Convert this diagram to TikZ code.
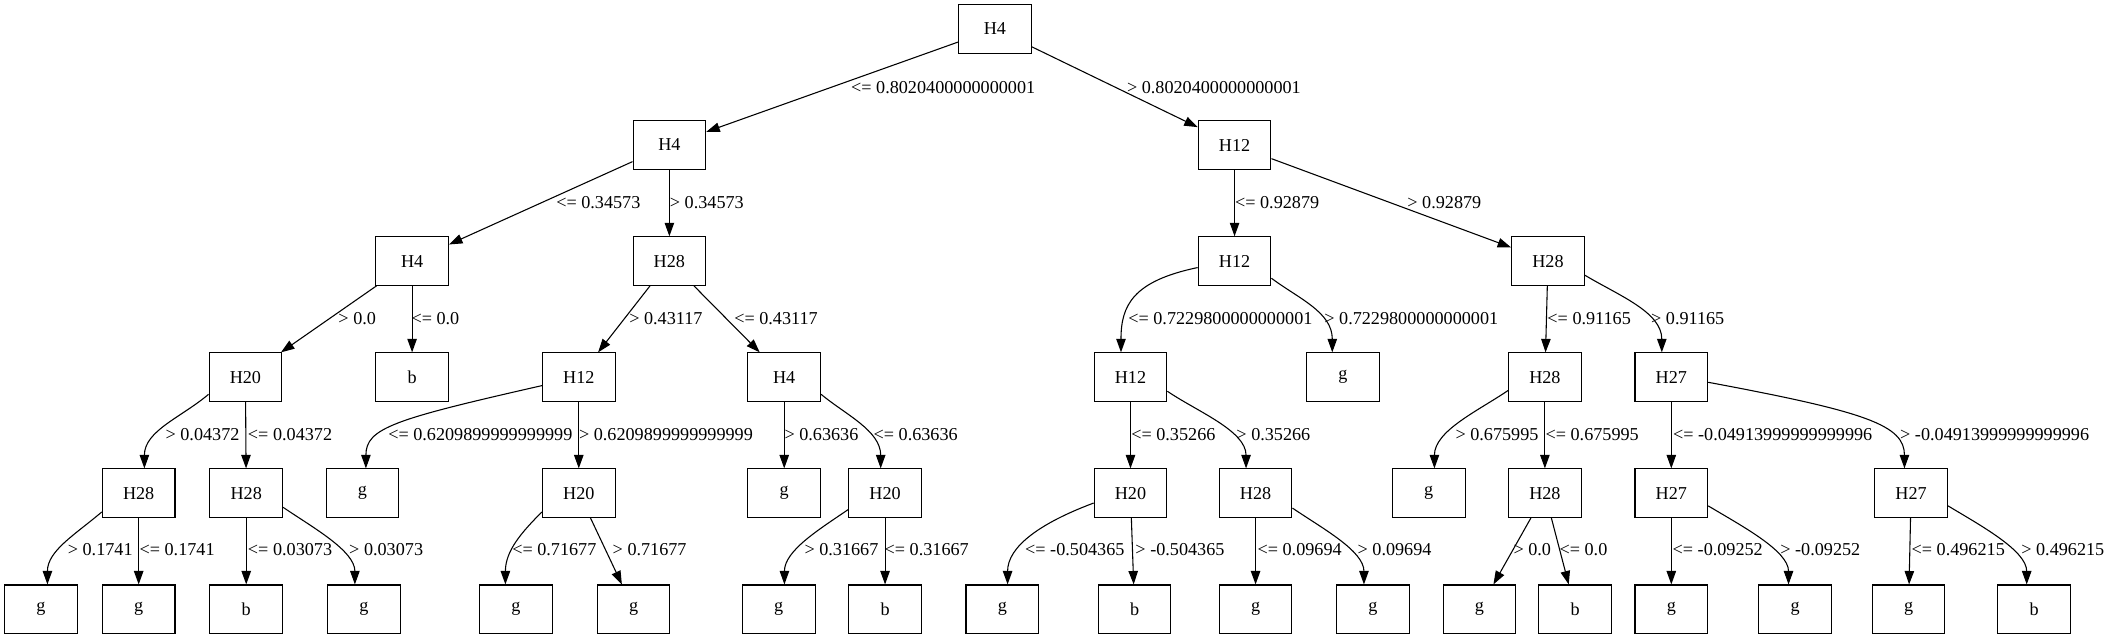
\documentclass[tikz,border=0pt]{standalone}
\usepackage{fontspec}
\setmainfont{Liberation Serif}
\usetikzlibrary{arrows.meta}

\begin{document}
\begin{tikzpicture}[x=1pt,y=-1pt,font=\fontsize{13.5}{16}\selectfont,
  box/.style={draw,line width=0.8pt,minimum width=54pt,minimum height=36pt,inner sep=0pt},
  link/.style={draw,line width=0.8pt,-{Triangle[length=10pt,width=7pt]}},
  lbl/.style={anchor=west,inner sep=0pt}]
\useasboundingbox (0,0) rectangle (1568,474.6);
% level 0 and 1
\node[box] (t) at (739,21.5) {H4};
\node[box] (tl) at (497.2,107.7) {H4};
\node[box] (tr) at (917,107.7) {H12};
% level 2
\node[box] (tll) at (306.1,193.9) {H4};
\node[box] (tlr) at (497.2,193.9) {H28};
\node[box] (trl) at (917,193.9) {H12};
\node[box] (trr) at (1149.8,193.9) {H28};
% level 3
\node[box] (tlll) at (182.3,280.1) {H20};
\node[box] (tllr) at (306.1,280.1) {b};
\node[box] (tlrl) at (429.9,280.1) {H12};
\node[box] (tlrr) at (582.5,280.1) {H4};
\node[box] (trll) at (839.7,280.1) {H12};
\node[box] (trlr) at (997.4,280.1) {g};
\node[box] (trrl) at (1147.5,280.1) {H28};
\node[box] (trrr) at (1241.4,280.1) {H27};
% level 4
\node[box] (tllll) at (103,366.3) {H28};
\node[box] (tlllr) at (182.9,366.3) {H28};
\node[box] (tlrll) at (269.2,366.3) {g};
\node[box] (tlrlr) at (429.9,366.3) {H20};
\node[box] (tlrrl) at (582.5,366.3) {g};
\node[box] (tlrrr) at (657.4,366.3) {H20};
\node[box] (trlll) at (839.7,366.3) {H20};
\node[box] (trllr) at (932.6,366.3) {H28};
\node[box] (trrll) at (1061.2,366.3) {g};
\node[box] (trrlr) at (1147.5,366.3) {H28};
\node[box] (trrrl) at (1241.4,366.3) {H27};
\node[box] (trrrr) at (1419.5,366.3) {H27};
% level 5
\node[box] (tlllll) at (30.3,452.5) {g};
\node[box] (tllllr) at (103,452.5) {g};
\node[box] (tlllrl) at (182.9,452.5) {b};
\node[box] (tlllrr) at (270.3,452.5) {g};
\node[box] (tlrlrl) at (383.2,452.5) {g};
\node[box] (tlrlrr) at (470.6,452.5) {g};
\node[box] (tlrrrl) at (578.4,452.5) {g};
\node[box] (tlrrrr) at (657.4,452.5) {b};
\node[box] (trllll) at (744.5,452.5) {g};
\node[box] (trlllr) at (842.7,452.5) {b};
\node[box] (trllrl) at (932.6,452.5) {g};
\node[box] (trllrr) at (1019.8,452.5) {g};
\node[box] (trrlrl) at (1098.9,452.5) {g};
\node[box] (trrlrr) at (1170,452.5) {b};
\node[box] (trrrll) at (1241.4,452.5) {g};
\node[box] (trrrlr) at (1333.4,452.5) {g};
\node[box] (trrrrl) at (1417.6,452.5) {g};
\node[box] (trrrrr) at (1511,452.5) {b};

% splits
\draw[link] (t) -- (tl) node[lbl] (qtl) at (631.8,65) {<= 0.8020400000000001};
\draw[link] (t) -- (tr) node[lbl] (qtr) at (836.7,65) {> 0.8020400000000001};
\draw[link] (tl) -- (tll) node[lbl] (qtll) at (412.8,150.3) {<= 0.34573};
\draw[link] (tl) -- (tlr) node[lbl] (qtlr) at (497.2,150.3) {> 0.34573};
\draw[link] (tr) -- (trl) node[lbl] (qtrl) at (917,150.3) {<= 0.92879};
\draw[link] (tr) -- (trr) node[lbl] (qtrr) at (1045,150.3) {> 0.92879};
\draw[link] (tll) -- (tlll) node[lbl] (qtlll) at (251,236.5) {> 0.0};
\draw[link] (tll) -- (tllr) node[lbl] (qtllr) at (305.3,236.5) {<= 0.0};
\draw[link] (tlr) -- (tlrl) node[lbl] (qtlrl) at (467,236.5) {> 0.43117};
\draw[link] (tlr) -- (tlrr) node[lbl] (qtlrr) at (545,236.5) {<= 0.43117};
\draw[link] (trl.190) .. controls +(-48,10) and +(0,-35) .. (trll.111)
  node[lbl] (qtrll) at (837.7,236.5) {<= 0.7229800000000001};
\draw[link] (trl.335) .. controls +(20,15) and +(0,-30) .. (trlr.113)
  node[lbl] (qtrlr) at (983.3,236.5) {> 0.7229800000000001};
\draw[link] (trr) -- (trrl) node[lbl] (qtrrl) at (1149,236.5) {<= 0.91165};
\draw[link] (trr.339) .. controls +(25,15) and +(0,-30) .. (trrr.111)
  node[lbl] (qtrrr) at (1226,236.5) {> 0.91165};

\draw[link] (tlll.205) .. controls +(-20,17) and +(0,-28) .. (tllll.77)
  node[lbl] (qtllll) at (122.6,323) {> 0.04372};
\draw[link] (tlll) -- (tlllr) node[lbl] (qtlllr) at (183.8,323) {<= 0.04372};
\draw[link] (tlrl.193) .. controls +(-110,25) and +(0,-30) .. (tlrll.82)
  node[lbl] (qtlrll) at (288,323) {<= 0.6209899999999999};
\draw[link] (tlrl) -- (tlrlr) node[lbl] (qtlrlr) at (429.7,323) {> 0.6209899999999999};
\draw[link] (tlrr) -- (tlrrl) node[lbl] (qtlrrl) at (582.3,323) {> 0.63636};
\draw[link] (tlrr.335) .. controls +(18,15) and +(0,-28) .. (tlrrr.100)
  node[lbl] (qtlrrr) at (648.5,323) {<= 0.63636};
\draw[link] (trll) -- (trlll) node[lbl] (qtrlll) at (839.9,323) {<= 0.35266};
\draw[link] (trll.339) .. controls +(22,15) and +(0,-28) .. (trllr.111)
  node[lbl] (qtrllr) at (918,323) {> 0.35266};
\draw[link] (trrl.200) .. controls +(-22,15) and +(0,-28) .. (trrll.77)
  node[lbl] (qtrrll) at (1080.7,323) {> 0.675995};
\draw[link] (trrl) -- (trrlr) node[lbl] (qtrrlr) at (1147.6,323) {<= 0.675995};
\draw[link] (trrr) -- (trrrl) node[lbl] (qtrrrl) at (1242.3,323) {<= -0.04913999999999996};
\draw[link] (trrr.352) .. controls +(118,22) and +(0,-32) .. (trrrr.105)
  node[lbl] (qtrrrr) at (1411,323) {> -0.04913999999999996};

\draw[link] (tllll.207) .. controls +(-20,17) and +(0,-25) .. (tlllll.75)
  node[lbl] (qtlllll) at (50,408.5) {> 0.1741};
\draw[link] (tllll) -- (tllllr) node[lbl] (qtllllr) at (103.3,408.5) {<= 0.1741};
\draw[link] (tlllr) -- (tlllrl) node[lbl] (qtlllrl) at (183.8,408.5) {<= 0.03073};
\draw[link] (tlllr.339) .. controls +(22,15) and +(0,-25) .. (tlllrr.110)
  node[lbl] (qtlllrr) at (259,408.5) {> 0.03073};
\draw[link] (tlrlr.207) .. controls +(-15,15) and +(0,-25) .. (tlrlrl.113)
  node[lbl,anchor=east] (qtlrlrl) at (443.4,408.5) {<= 0.71677};
\draw[link] (tlrlr) -- (tlrlrr) node[lbl] (qtlrlrr) at (454.7,408.5) {> 0.71677};
\draw[link] (tlrrr.204) .. controls +(-22,15) and +(0,-25) .. (tlrrrl.77)
  node[lbl] (qtlrrrl) at (597.2,408.5) {> 0.31667};
\draw[link] (tlrrr) -- (tlrrrr) node[lbl] (qtlrrrr) at (656.7,408.5) {<= 0.31667};
\draw[link] (trlll.195) .. controls +(-40,15) and +(0,-28) .. (trllll.78)
  node[lbl,anchor=east] (qtrllll) at (835.6,408.5) {<= -0.504365};
\draw[link] (trlll) -- (trlllr) node[lbl] (qtrlllr) at (843,408.5) {> -0.504365};
\draw[link] (trllr) -- (trllrl) node[lbl] (qtrllrl) at (933.7,408.5) {<= 0.09694};
\draw[link] (trllr.338) .. controls +(22,15) and +(0,-25) .. (trllrr.110)
  node[lbl] (qtrllrr) at (1008,408.5) {> 0.09694};
\draw[link] (trrlr) -- (trrlrl) node[lbl] (qtrrlrl) at (1123.8,408.5) {> 0.0};
\draw[link] (trrlr) -- (trrlrr) node[lbl] (qtrrlrr) at (1158,408.5) {<= 0.0};
\draw[link] (trrrl) -- (trrrll) node[lbl] (qtrrrll) at (1242,408.5) {<= -0.09252};
\draw[link] (trrrl.341) .. controls +(25,15) and +(0,-25) .. (trrrlr.105)
  node[lbl] (qtrrrlr) at (1322,408.5) {> -0.09252};
\draw[link] (trrrr) -- (trrrrl) node[lbl] (qtrrrrl) at (1419.5,408.5) {<= 0.496215};
\draw[link] (trrrr.341) .. controls +(25,15) and +(0,-25) .. (trrrrr.107)
  node[lbl] (qtrrrrr) at (1501,408.5) {> 0.496215};
\end{tikzpicture}
\end{document}
